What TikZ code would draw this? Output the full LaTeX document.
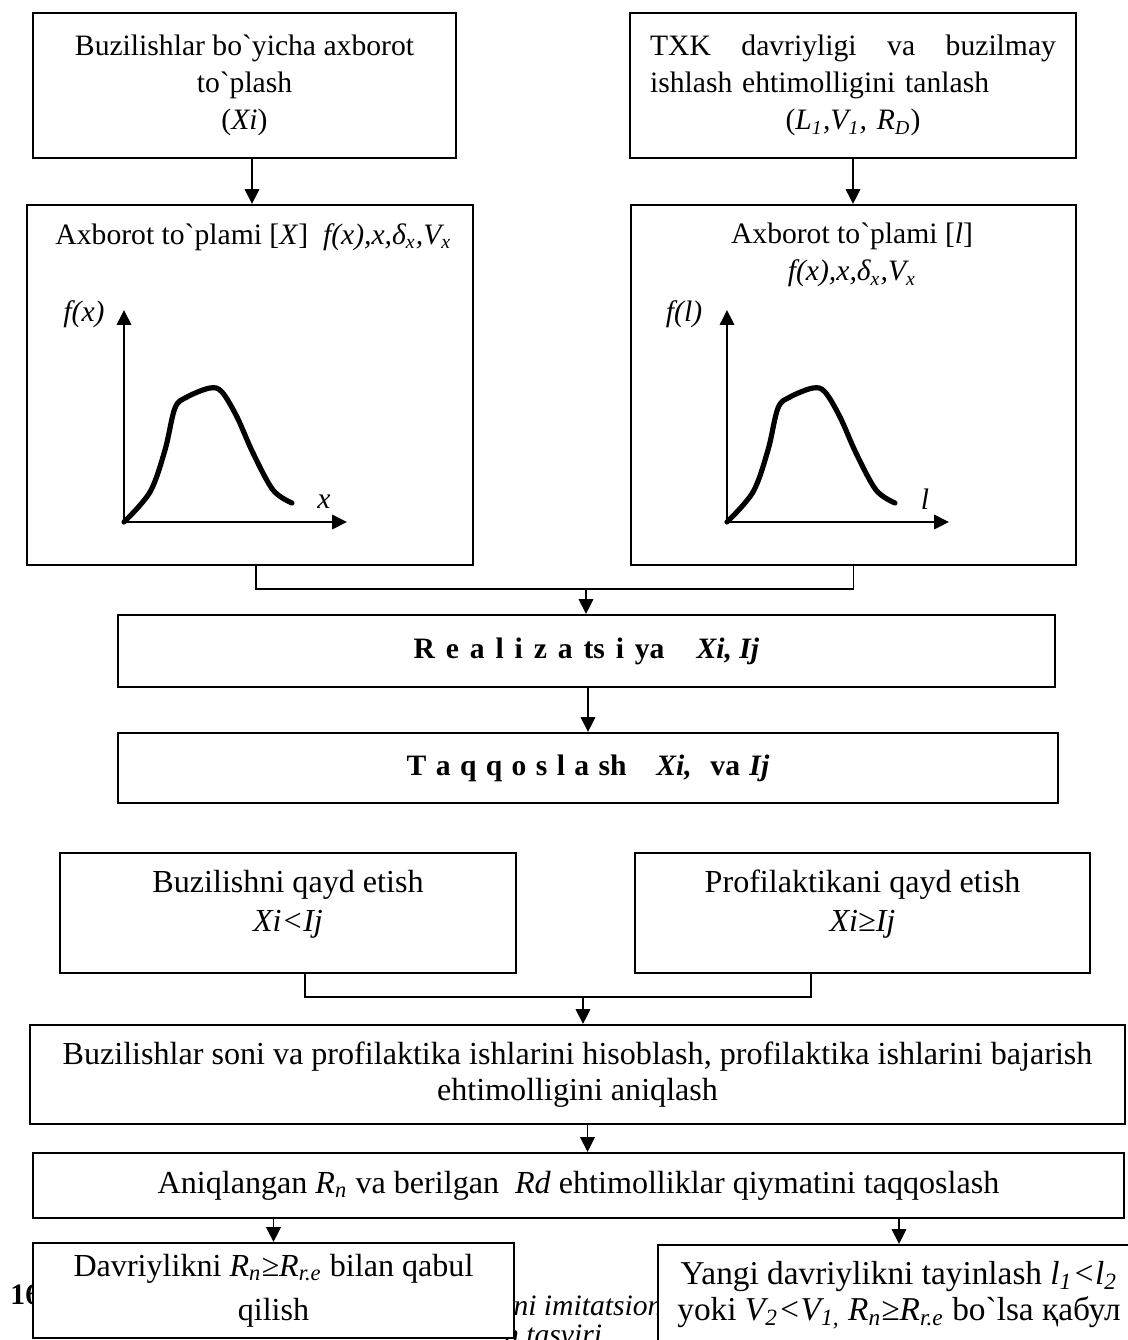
\documentclass[tikz,border=0pt]{standalone}
\usepackage{fontspec}
\setmainfont{Liberation Serif}[Ligatures=TeXOff]
\usetikzlibrary{arrows.meta,calc}

\begin{document}
\begin{tikzpicture}[
        x=0.405pt, y=-0.405pt,
        font=\fontsize{12}{15}\selectfont,
        box/.style={draw, line width=0.8pt, fill=white, align=center, inner sep=0pt},
        low/.style={font=\fontsize{13}{14.5}\selectfont},
        sz/.style 2 args={minimum width=#1*0.405pt, minimum height=#2*0.405pt},
        link/.style={draw, line width=0.8pt},
        arr/.style={link, -{Triangle[length=6pt, width=5.8pt]}},
        curve/.style={line width=2.1pt, line cap=round, line join=round},
        txt/.style={inner sep=0pt}
    ]
        \useasboundingbox (0,0) rectangle (1128,1340);
        \clip (0,0) rectangle (1128,1340);

        % caption, partly hidden by the last boxes
        \node[txt, anchor=west] (capnum) at (10,1295) {\textbf{16}};
        \node[txt, anchor=base east] (capa) at (663,1315) {\textit{ni imitatsion}};
        \node[txt, anchor=base east] (capb) at (610,1344) {\textit{n tasviri.}};

        % input data
        \node[box, sz={423}{145}] (buzx) at (244.5,85.5) {Buzilishlar bo`yicha axborot\\ to`plash\\ (\textit{Xi})};
        \node[box, sz={446}{145}, text width=164.4pt, align=left] (txk) at (853,85.5)
            {TXK\hfill davriyligi\hfill va\hfill buzilmay\\ ishlash ehtimolligini tanlash\\
             \makebox[\linewidth]{(\textit{L\textsubscript{1},V\textsubscript{1}, R\textsubscript{D}})}};

        % distributions
        \node[box, sz={446}{360}] (plotx) at (250,385) {};
        \node[box, sz={445}{360}] (plotl) at (853.5,385) {};
        \node[txt, anchor=west] (plotxt) at (55,237)
            {Axborot to`plami [\textit{X}]\ \ \textit{f(x),x,δ\textsubscript{x},V\textsubscript{x}}};
        \node[txt, align=center] (plotlt) at (852,255)
            {Axborot to`plami [\textit{l}]\\ \textit{f(x),x,δ\textsubscript{x},V\textsubscript{x}}};

        \coordinate (ox) at (124,522);
        \coordinate (oxy) at (124,310);
        \coordinate (oxx) at (347,522);
        \draw[arr] (ox) -- (oxy);
        \draw[arr] (ox) -- (oxx);
        \draw[curve, shift={(ox)}] plot[smooth, tension=0.55] coordinates
            {(0,0) (26,-30) (41,-72) (51,-114) (63,-125) (86,-134) (98,-130) (113,-105) (129,-69) (149,-32) (168,-19)};
        \node[txt] (fx) at (84,314) {\textit{f(x)}};
        \node[txt] (xl) at (324,502) {\textit{x}};

        \coordinate (ol) at (727,522);
        \coordinate (oly) at (727,310);
        \coordinate (olx) at (949,522);
        \draw[arr] (ol) -- (oly);
        \draw[arr] (ol) -- (olx);
        \draw[curve, shift={(ol)}] plot[smooth, tension=0.55] coordinates
            {(0,0) (26,-30) (41,-72) (51,-114) (63,-125) (86,-134) (98,-130) (113,-105) (129,-69) (149,-32) (168,-19)};
        \node[txt] (fl) at (684,314) {\textit{f(l)}};
        \node[txt] (ll) at (925,499) {\textit{l}};

        % simulation
        \node[box, sz={937}{72}] (real) at (586.5,651)
            {\textbf{\spaceskip=4.4pt R e a l i z a ts i ya\hspace{13pt}\textit{Xi,\kern3pt Ij}}};
        \node[box, sz={940}{70}] (taqq) at (588,768)
            {\textbf{\spaceskip=3.8pt T a q q o s l a sh\hspace{12pt}\textit{Xi,}\ \ va \textit{Ij}}};

        \node[box, sz={456}{120}] (buzq) at (288,913) {};
        \node[txt, low, align=center, font=\fontsize{13}{16}\selectfont] (buzqt) at ([yshift=3.6pt]buzq)
            {Buzilishni qayd etish\\ \textit{Xi<Ij}};
        \node[box, sz={455}{120}] (profq) at (862.5,913) {};
        \node[txt, low, align=center, font=\fontsize{13}{16}\selectfont] (profqt) at ([yshift=3.6pt]profq)
            {Profilaktikani qayd etish\\ \textit{Xi≥Ij}};

        \node[box, low, sz={1095}{99}] (hisob) at (577.5,1074.5)
            {Buzilishlar soni va profilaktika ishlarini hisoblash, profilaktika ishlarini bajarish\\ ehtimolligini aniqlash};
        \node[box, low, sz={1091}{65}] (aniq) at (578.5,1185.5)
            {Aniqlangan \textit{R}\textsubscript{\textit{n}} va berilgan\ \ \textit{Rd} ehtimolliklar qiymatini taqqoslash};

        \node[box, sz={481}{95}, font=\fontsize{13}{18}\selectfont] (qabul) at (273.5,1290.5)
            {Davriylikni \textit{R\textsubscript{n}≥R\textsubscript{r.e}} bilan qabul\\ qilish};
        \node[box, sz={482}{100}, font=\fontsize{13.5}{14.5}\selectfont] (yangi) at (899,1295)
            {Yangi davriylikni tayinlash \textit{l\textsubscript{1}<l\textsubscript{2}}\\
             yoki \textit{V\textsubscript{2}<V\textsubscript{1,} R\textsubscript{n}≥R\textsubscript{r.e}} bo`lsa қабул};

        % connectors
        \draw[arr] ($(buzx.south)+(7.5,0)$) -- ($(plotx.north)+(2,0)$);
        \draw[arr] (txk.south) -- (txk.south |- plotl.north);
        \coordinate (m1) at (586,589);
        \draw[link] ($(plotx.south)+(6,0)$) |- (m1) -| (plotl.south);
        \draw[arr] (m1) -- (m1 |- real.north);
        \draw[arr] (real.south -| taqq.north) -- (taqq.north);

        \coordinate (m2) at (583,997);
        \draw[link] ($(buzq.south)+(17,0)$) |- (m2) -| ($(profq.south)+(-51.5,0)$);
        \draw[arr] (m2) -- (m2 |- hisob.north);
        \draw[arr] ($(hisob.south)+(10,0)$) -- ($(aniq.north)+(9,0)$);
        \draw[arr] (aniq.south -| qabul.north) -- (qabul.north);
        \draw[arr] (aniq.south -| yangi.north) -- (yangi.north);
\end{tikzpicture}
\end{document}
